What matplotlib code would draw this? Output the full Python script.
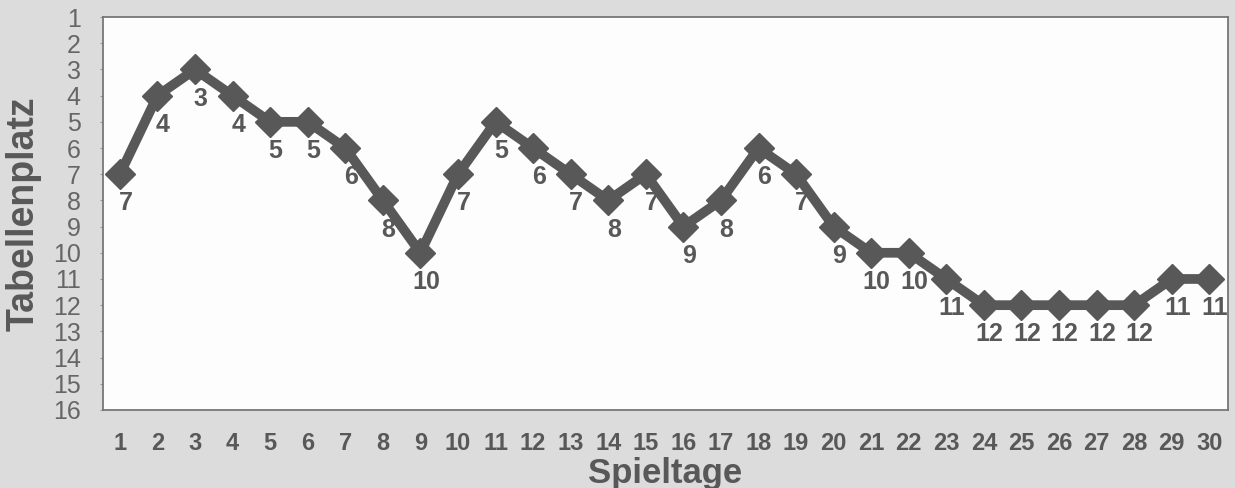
import matplotlib
matplotlib.use('Agg')
import matplotlib.pyplot as plt

# Tabellenplatz je Spieltag
spieltage = list(range(1, 31))
platz = [7, 4, 3, 4, 5, 5, 6, 8, 10, 7, 5, 6, 7, 8, 7, 9, 8, 6, 7, 9,
         10, 10, 11, 12, 12, 12, 12, 12, 11, 11]
y_ticks = list(range(1, 17))

GRAU = '#585858'
plt.rcParams['font.family'] = ['Liberation Sans', 'DejaVu Sans']

fig = plt.figure(figsize=(12.35, 4.88), dpi=100, facecolor='#dcdcdc')
ax = fig.add_axes([0.0834, 0.160, 0.911, 0.805])
ax.set_facecolor('#fdfdfd')

ax.plot(spieltage, platz, color=GRAU, linewidth=7, marker='D',
        markersize=15, markerfacecolor=GRAU, markeredgecolor=GRAU,
        solid_joinstyle='round')

for x, y in zip(spieltage, platz):
    ax.annotate(str(y), (x, y), xytext=(4, -21), textcoords='offset points',
                ha='center', va='center', fontsize=18, fontweight='bold',
                color=GRAU)

ax.set_xlim(0.55, 30.5)
ax.set_ylim(16, 1)
ax.set_xticks(spieltage)
ax.set_yticks(y_ticks)
ax.tick_params(axis='x', length=0, pad=16, labelsize=17, labelcolor=GRAU)
ax.tick_params(axis='y', length=2, pad=14, labelsize=18, labelcolor='#666666',
               color='#999999')
for lbl in ax.get_xticklabels():
    lbl.set_fontweight('bold')

for s in ax.spines.values():
    s.set_color('#777777')
    s.set_linewidth(1.3)

ax.set_ylabel('Tabellenplatz', fontsize=27, fontweight='bold', color=GRAU,
              labelpad=8)
ax.set_xlabel('Spieltage', fontsize=25, fontweight='bold', color=GRAU,
              labelpad=1)

plt.savefig('out.png', dpi=100, facecolor=fig.get_facecolor())
